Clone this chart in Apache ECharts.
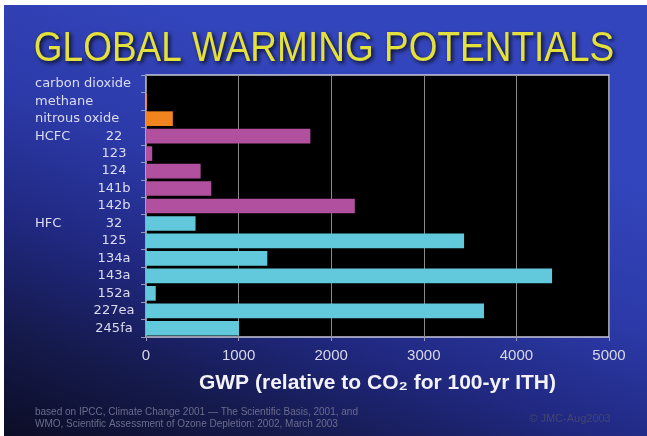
<!DOCTYPE html>
<html>
<head>
<meta charset="utf-8">
<script src="https://cdn.jsdelivr.net/npm/echarts@6/dist/echarts.min.js"></script>
<style>
html,body{margin:0;padding:0;background:#fff;}
#chart{width:647px;height:436px;}
</style>
</head>
<body>
<div id="chart"></div>
<script>
// ---- data ----
var groupLabels = ['carbon dioxide','methane','nitrous oxide','HCFC','','','','','HFC','','','','','',''];
var subLabels   = ['','','','22','123','124','141b','142b','32','125','134a','143a','152a','227ea','245fa'];
var groups      = ['gas','gas','gas','hcfc','hcfc','hcfc','hcfc','hcfc','hfc','hfc','hfc','hfc','hfc','hfc','hfc'];
var gwpValues   = [1, 10, 290, 1775, 67, 590, 705, 2255, 535, 3435, 1310, 4385, 105, 3650, 1005];
var xTicks      = [0, 1000, 2000, 3000, 4000, 5000];

var titleText = 'GLOBAL WARMING POTENTIALS';
var axisTitle = 'GWP (relative to CO\u2082 for 100-yr ITH)';
var sourceLine1 = 'based on IPCC, Climate Change 2001 \u2014 The Scientific Basis, 2001, and';
var sourceLine2 = 'WMO, Scientific Assessment of Ozone Depletion: 2002, March 2003';
var credit = '\u00a9 JMC-Aug2003';

// ---- styles ----
var groupColors = {gas:'#f2841f', hcfc:'#b0509e', hfc:'#62c9dc'};
var categories = groupLabels.map(function(g,i){ return String(i); });

var chart = echarts.init(document.getElementById('chart'));
var option = {
  backgroundColor: '#ffffff',
  animation: false,
  graphic: {elements: [
    {type:'rect', z:-100, silent:true,
     shape:{x:4, y:5, width:643, height:431},
     style:{fill:new echarts.graphic.LinearGradient(0.25,0,0,1,[
       {offset:0, color:'#3345bc'},
       {offset:0.3, color:'#2c3aa8'},
       {offset:0.55, color:'#202880'},
       {offset:0.78, color:'#151a4c'},
       {offset:1, color:'#0c0d26'}])}},
    {type:'text', z:100, x:324, y:49, scaleY:1.14,
     style:{text:titleText, fill:'#e4e03c', font:'37px "Liberation Sans", Arial, sans-serif',
       textAlign:'center', textVerticalAlign:'middle',
       textShadowColor:'rgba(0,0,0,0.85)', textShadowBlur:4, textShadowOffsetX:2, textShadowOffsetY:2}},
    {type:'text', z:100, x:35, y:412,
     style:{text:sourceLine1, fill:'#6a6c8c', font:'10px "Liberation Sans", Arial, sans-serif',
       textAlign:'left', textVerticalAlign:'middle'}},
    {type:'text', z:100, x:35, y:424,
     style:{text:sourceLine2, fill:'#6a6c8c', font:'10px "Liberation Sans", Arial, sans-serif',
       textAlign:'left', textVerticalAlign:'middle'}},
    {type:'text', z:100, x:570, y:419,
     style:{text:credit, fill:'#44466c', font:'11px "Liberation Sans", Arial, sans-serif',
       textAlign:'center', textVerticalAlign:'middle'}}
  ]},
  grid: {left:146, right:38, top:75, bottom:99, show:true, backgroundColor:'#000000',
    borderColor:'#c8c8dc', borderWidth:1.5},
  xAxis: {
    type:'value', min:xTicks[0], max:xTicks[xTicks.length-1], interval:1000,
    axisLine:{show:false},
    axisTick:{show:true, length:4, lineStyle:{color:'#9a9ab8'}},
    splitLine:{show:true, lineStyle:{color:'#8a8a8a', width:1}},
    axisLabel:{color:'#d8d8ea', fontSize:15, margin:11, fontFamily:'"Liberation Sans", Arial, sans-serif',
      formatter:function(v){ return String(v); }},
    name: axisTitle, nameLocation:'middle', nameGap:36,
    nameTextStyle:{color:'#f2f2f8', fontSize:21, fontWeight:'bold', fontFamily:'"Liberation Sans", Arial, sans-serif'}
  },
  yAxis: {
    type:'category', inverse:true, data:categories,
    axisLine:{show:false},
    axisTick:{show:true, length:5, lineStyle:{color:'#9a9ab8'}},
    splitLine:{show:false},
    axisLabel:{
      align:'left', margin:111, interval:0,
      formatter:function(v, idx){
        var g = groupLabels[idx], s = subLabels[idx];
        if (!s) return '{f|' + g + '}';
        return '{g|' + g + '}{n|' + s + '}';
      },
      rich:{
        f:{color:'#dcdcf0', fontSize:13, fontFamily:'"DejaVu Sans", sans-serif'},
        g:{color:'#dcdcf0', fontSize:13, fontFamily:'"DejaVu Sans", sans-serif', width:63},
        n:{color:'#dcdcf0', fontSize:13, fontFamily:'"DejaVu Sans", sans-serif', width:32, align:'center'}
      }
    }
  },
  series: [{
    type:'bar', barCategoryGap:'16%',
    data: gwpValues.map(function(v,i){ return {value:v, itemStyle:{color:groupColors[groups[i]]}}; })
  }]
};
chart.setOption(option);
</script>
</body>
</html>
